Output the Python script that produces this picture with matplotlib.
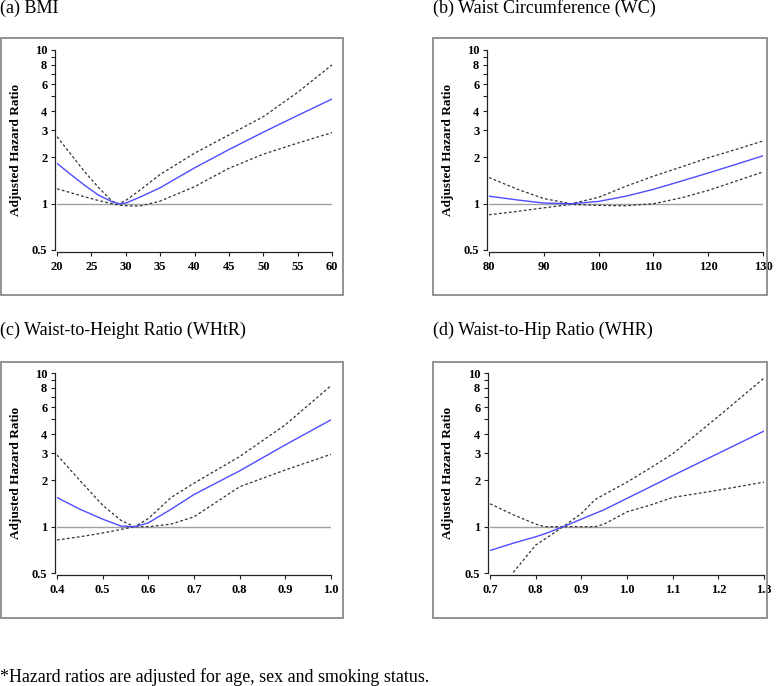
import numpy as np
import matplotlib
matplotlib.use("Agg")
import matplotlib.pyplot as plt
from matplotlib.patches import Rectangle

# ---- data (hazard ratios, log scale) ----
bmi_x = [20, 22, 24, 26, 28, 29, 30, 32, 35, 40, 45, 50, 55, 60]
bmi_hr = [1.83, 1.55, 1.32, 1.14, 1.03, 1.0, 1.01, 1.1, 1.27, 1.71, 2.25, 2.92, 3.75, 4.8]
bmi_hi = [2.73, 2.1, 1.62, 1.28, 1.04, 1.0, 1.05, 1.22, 1.55, 2.13, 2.8, 3.68, 5.3, 8.0]
bmi_lo = [1.25, 1.18, 1.11, 1.05, 1.0, 0.98, 0.97, 0.965, 1.04, 1.29, 1.7, 2.1, 2.48, 2.9]

wc_x = [80, 85, 90, 95, 100, 105, 110, 115, 120, 125, 130]
wc_hr = [1.12, 1.06, 1.01, 1.0, 1.035, 1.12, 1.24, 1.4, 1.585, 1.8, 2.05]
wc_hi = [1.48, 1.25, 1.08, 1.0, 1.1, 1.3, 1.51, 1.73, 1.99, 2.25, 2.56]
wc_lo = [0.848, 0.89, 0.94, 0.99, 0.975, 0.97, 1.0, 1.09, 1.22, 1.4, 1.61]

whtr_x = [0.4, 0.45, 0.5, 0.54, 0.57, 0.6, 0.65, 0.7, 0.8, 0.9, 1.0]
whtr_hr = [1.55, 1.3, 1.12, 1.01, 1.0, 1.06, 1.3, 1.62, 2.31, 3.41, 4.96]
whtr_hi = [2.93, 2.0, 1.38, 1.1, 1.0, 1.13, 1.55, 1.92, 2.86, 4.6, 8.27]
whtr_lo = [0.82, 0.86, 0.91, 0.96, 1.0, 1.0, 1.04, 1.16, 1.82, 2.34, 2.96]

whr_x = [0.7, 0.75, 0.8, 0.82, 0.86, 0.9, 0.93, 0.95, 1.0, 1.05, 1.1, 1.2, 1.3]
whr_hr = [0.70, 0.78, 0.86, 0.90, 1.0, 1.12, 1.22, 1.29, 1.53, 1.81, 2.15, 3.0, 4.19]
whr_hi = [1.41, 1.2, 1.04, 1.0, 1.0, 1.22, 1.5, 1.62, 1.95, 2.4, 2.98, 5.22, 9.27]
whr_lo = [0.38, 0.5, 0.76, 0.83, 1.0, 1.0, 1.0, 1.04, 1.25, 1.38, 1.55, 1.73, 1.95]

titles = ["(a) BMI", "(b) Waist Circumference (WC)",
          "(c) Waist-to-Height Ratio (WHtR)", "(d) Waist-to-Hip Ratio (WHR)"]
xticks = [[20, 25, 30, 35, 40, 45, 50, 55, 60],
          [80, 90, 100, 110, 120, 130],
          [0.4, 0.5, 0.6, 0.7, 0.8, 0.9, 1.0],
          [0.7, 0.8, 0.9, 1.0, 1.1, 1.2, 1.3]]
xfmt = ["{:.0f}", "{:.0f}", "{:.1f}", "{:.1f}"]
yticks = [0.5, 1, 2, 3, 4, 5, 6, 7, 8, 9, 10]
ylabels = ["0.5", "1", "2", "3", "4", "", "6", "", "8", "", "10"]
footnote = "*Hazard ratios are adjusted for age, sex and smoking status."

series = [(bmi_x, bmi_hr, bmi_hi, bmi_lo),
          (wc_x, wc_hr, wc_hi, wc_lo),
          (whtr_x, whtr_hr, whtr_hi, whtr_lo),
          (whr_x, whr_hr, whr_hi, whr_lo)]

plt.rcParams['font.family'] = ['Liberation Serif', 'DejaVu Serif']

W, H = 777, 686
fig = plt.figure(figsize=(W / 100, H / 100), dpi=100)

# pixel boxes: frame (x0, y0, x1, y1), axes (x0, y0, x1, y1), title pos
frames = [(1, 38, 343, 295), (433, 38, 767, 295),
          (1, 362, 343, 618), (433, 362, 767, 618)]
axboxes = [(57, 50, 332, 250), (489, 50, 763, 250),
           (57, 373, 331, 573), (490, 373, 764, 573)]
title_pos = [(0, 8), (433, 8), (0, 330), (433, 330)]

tick_font = {'fontsize': 9, 'fontweight': 'bold'}

for i in range(4):
    fx0, fy0, fx1, fy1 = frames[i]
    fig.patches.append(Rectangle((fx0 / W, 1 - fy1 / H), (fx1 - fx0) / W, (fy1 - fy0) / H,
                                 transform=fig.transFigure, fill=False,
                                 edgecolor='#8a8a8a', lw=1.3))
    tx, ty = title_pos[i]
    fig.text(tx / W, 1 - ty / H, titles[i], fontsize=13, ha='left', va='center')

    x0, y0, x1, y1 = axboxes[i]
    ax = fig.add_axes([x0 / W, 1 - y1 / H, (x1 - x0) / W, (y1 - y0) / H])

    # spines first: set_position resets the ticks
    for s in ['top', 'right']:
        ax.spines[s].set_visible(False)
    for s in ['left', 'bottom']:
        ax.spines[s].set_position(('outward', 1.5))
        ax.spines[s].set_color('#222222')
        ax.spines[s].set_linewidth(0.9)
    ax.patch.set_alpha(0)

    xs, hr, hi, lo = series[i]
    ax.axhline(1, color='#a0a0a0', lw=1.0, zorder=1)
    ax.plot(xs, hi, color='#333333', lw=0.9, ls=(0, (2.2, 1.8)))
    ax.plot(xs, lo, color='#333333', lw=0.9, ls=(0, (2.2, 1.8)))
    ax.plot(xs, hr, color='#4d4dff', lw=1.0)

    ax.set_yscale('log')
    ax.set_ylim(0.5, 10)
    ax.set_xlim(xticks[i][0], xticks[i][-1])
    ax.yaxis.set_minor_locator(matplotlib.ticker.NullLocator())
    ax.set_yticks(yticks)
    ax.set_yticklabels(ylabels, fontdict=tick_font)
    ax.set_xticks(xticks[i])
    ax.set_xticklabels([xfmt[i].format(v) for v in xticks[i]], fontdict=tick_font)
    ax.tick_params(length=3, width=0.8, color='#222222')
    ax.tick_params(axis='y', pad=2.5)
    ax.tick_params(axis='x', pad=3.5)

    ax.set_ylabel("Adjusted Hazard Ratio", fontsize=9.5, fontweight='bold')
    ax.yaxis.set_label_coords(-(x0 - fx0 - 21) / (x1 - x0), 0.5)

fig.text(0, 1 - 677 / H, footnote, fontsize=12.9, ha='left', va='center')

fig.savefig("out.png", dpi=100)
